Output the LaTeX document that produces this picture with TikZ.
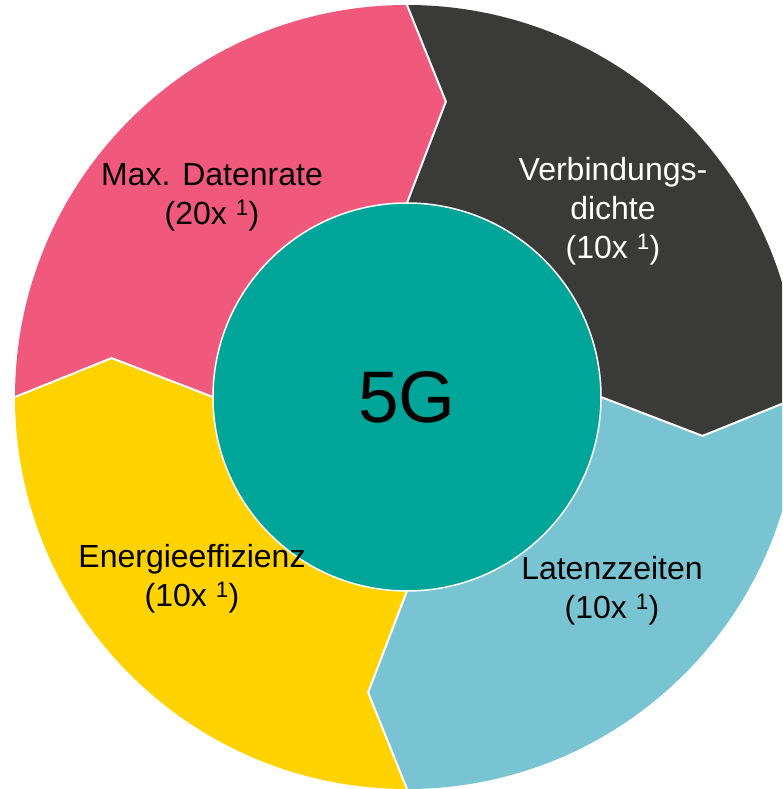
\documentclass[tikz,border=0pt]{standalone}
\usepackage{fontspec}
\setmainfont{Liberation Sans}
\definecolor{pinkc}{HTML}{F0587C}
\definecolor{darkc}{HTML}{3A3B39}
\definecolor{bluec}{HTML}{79C4D3}
\definecolor{yellowc}{HTML}{FFD200}
\definecolor{tealc}{HTML}{00A59A}
\begin{document}
\begin{tikzpicture}[x=1pt,y=1pt,
  seg/.style={line width=2pt, draw=white, line join=miter},
  lbl/.style={align=center, font=\fontsize{32}{39}\selectfont, inner sep=0pt},
  core/.style={circle, fill=tealc, draw=white, line width=1.5pt, minimum size=388pt, inner sep=0pt, font=\fontsize{73}{80}\selectfont}]
\useasboundingbox (-407,-392) rectangle (375,397);
\clip (-407,-392) rectangle (375,397);
\def\Ro{392}\def\Ri{194}\def\Rm{298}\def\dd{7.5}
% segments
\fill[pinkc] (180:\Ro) arc[start angle=180,end angle=90,radius=\Ro] -- (90-\dd:\Rm) -- (90:\Ri) arc[start angle=90,end angle=180,radius=\Ri] -- (180-\dd:\Rm) -- cycle;
\fill[darkc] (90:\Ro) arc[start angle=90,end angle=0,radius=\Ro] -- (-\dd:\Rm) -- (0:\Ri) arc[start angle=0,end angle=90,radius=\Ri] -- (90-\dd:\Rm) -- cycle;
\fill[bluec] (0:\Ro) arc[start angle=0,end angle=-90,radius=\Ro] -- (-90-\dd:\Rm) -- (-90:\Ri) arc[start angle=-90,end angle=0,radius=\Ri] -- (-\dd:\Rm) -- cycle;
\fill[yellowc] (-90:\Ro) arc[start angle=-90,end angle=-180,radius=\Ro] -- (-180-\dd:\Rm) -- (-180:\Ri) arc[start angle=-180,end angle=-90,radius=\Ri] -- (-90-\dd:\Rm) -- cycle;
% white boundaries
\foreach \t in {90,0,-90,180}{
  \draw[seg] (\t:\Ro) -- (\t-\dd:\Rm) -- (\t:\Ri);
}
% centre
\node[core] (centre) at (0,0) {5G};
% labels
\node[lbl] (rate) at (-195,200) {Max. Datenrate\\(20x \textsuperscript{1})};
\node[lbl, text=white] (dens) at (206,186) {Verbindungs-\\dichte\\(10x \textsuperscript{1})};
\node[lbl] (lat) at (205,-194) {Latenzzeiten\\(10x \textsuperscript{1})};
\node[lbl] (ener) at (-215,-182) {Energieeffizienz\\(10x \textsuperscript{1})};
\end{tikzpicture}
\end{document}
